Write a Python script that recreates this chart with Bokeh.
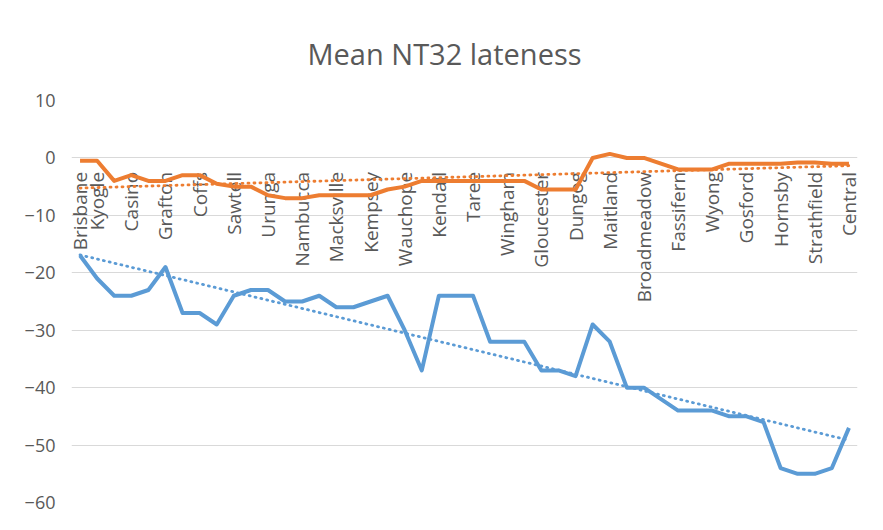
import numpy as np
from bokeh.plotting import figure
from bokeh.models import Range1d, FixedTicker, ColumnDataSource, Title
from bokeh.core.properties import value
from bokeh.embed import file_html
from bokeh.resources import INLINE

# ---- data ----
stop_labels = ["Brisbane", "Kyogle", "", "Casino", "", "Grafton", "", "Coffs", "", "Sawtell",
               "", "Urunga", "", "Nambucca", "", "Macksville", "", "Kempsey", "", "Wauchope",
               "", "Kendall", "", "Taree", "", "Wingham", "", "Gloucester", "", "Dungog",
               "", "Maitland", "", "Broadmeadow", "", "Fassifern", "", "Wyong", "", "Gosford",
               "", "Hornsby", "", "Strathfield", "", "Central"]

blue_vals = [-17, -21, -24, -24, -23, -19, -27, -27, -29, -24,
             -23, -23, -25, -25, -24, -26, -26, -25, -24, -30,
             -37, -24, -24, -24, -32, -32, -32, -37, -37, -38,
             -29, -32, -40, -40, -42, -44, -44, -44, -45, -45,
             -46, -54, -55, -55, -54, -47]

orange_vals = [-0.5, -0.5, -4, -3, -4, -4, -3, -3, -4.5, -5,
               -5, -6.5, -7, -7, -6.5, -6.5, -6.5, -6.5, -5.5, -5,
               -4, -4, -4, -4, -4, -4, -4, -5.5, -5.5, -5.5,
               0, 0.7, 0, 0, -1, -2, -2, -2, -1, -1,
               -1, -1, -0.8, -0.8, -1, -1]

y_ticks = [10, 0, -10, -20, -30, -40, -50, -60]

BLUE = "#5B9BD5"
ORANGE = "#ED7D31"
TEXT = "#595959"
GRID = "#D9D9D9"
FONT = "Open Sans"

idx = list(range(len(stop_labels)))

p = figure(width=867, height=514, output_backend="svg", toolbar_location=None,
           x_range=Range1d(-0.5, len(idx) - 0.5), y_range=Range1d(-60, 10),
           min_border_left=71, min_border_right=10, min_border_top=100, min_border_bottom=12)

p.title = Title(text="Mean NT32 lateness", align="left", text_font=FONT,
                text_font_size="29px", text_font_style="normal", text_color=TEXT,
                offset=236, standoff=55)

p.outline_line_color = None
p.background_fill_color = "white"
p.border_fill_color = "white"

p.xaxis.visible = False
p.xgrid.visible = False
p.ygrid.grid_line_color = GRID
p.ygrid.grid_line_width = 1

yax = p.yaxis[0]
yax.ticker = FixedTicker(ticks=y_ticks)
yax.axis_line_color = None
yax.major_tick_line_color = None
yax.minor_tick_line_color = None
yax.major_label_text_font = FONT
yax.major_label_text_font_size = "18px"
yax.major_label_text_color = TEXT
yax.major_label_standoff = 10

# category labels sitting under the zero line
lab_src = ColumnDataSource(dict(x=idx, y=[0] * len(idx), t=stop_labels))
p.text(x="x", y="y", text="t", source=lab_src, angle=np.pi / 2, text_align="right",
       text_baseline="middle", y_offset=14, text_font=value(FONT),
       text_font_size="19px", text_color=TEXT)

# series
p.line(idx, blue_vals, line_color=BLUE, line_width=4, line_join="round")
p.line(idx, orange_vals, line_color=ORANGE, line_width=4, line_join="round")

# linear trendlines
for vals, col in ((blue_vals, BLUE), (orange_vals, ORANGE)):
    k, b = np.polyfit(idx, vals, 1)
    xs = [idx[0], idx[-1]]
    p.line(xs, [k * x + b for x in xs], line_color=col, line_width=2.8,
           line_dash="1 5", line_cap="round")

open("out.html", "w").write(file_html(p, INLINE))
